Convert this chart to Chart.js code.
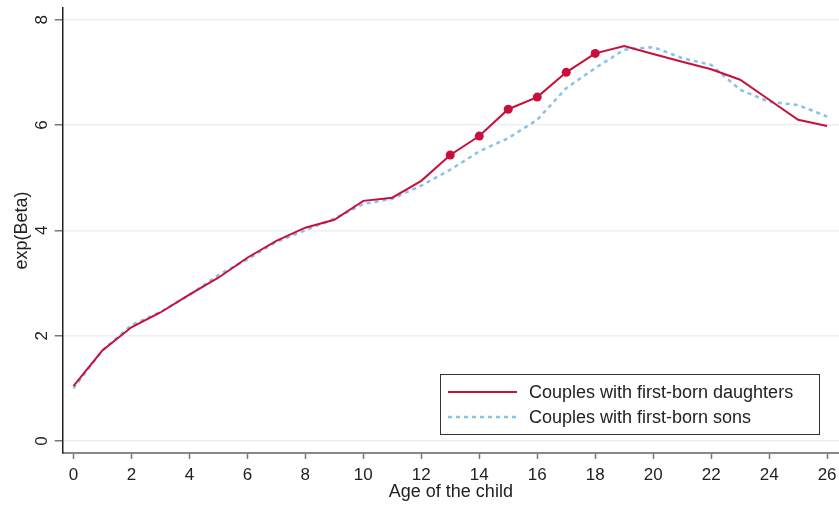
<!DOCTYPE html>
<html>
<head>
<meta charset="utf-8">
<script src="https://cdn.jsdelivr.net/npm/chart.js@4.4.1/dist/chart.umd.min.js"></script>
<style>
  html, body { margin: 0; padding: 0; background: #fff; }
  #wrap { width: 839px; height: 507px; }
</style>
</head>
<body>
<div id="wrap"><canvas id="chartAge" width="839" height="507"></canvas></div>
<script>
const ages = [0, 1, 2, 3, 4, 5, 6, 7, 8, 9, 10, 11, 12, 13, 14, 15, 16, 17, 18, 19, 20, 21, 22, 23, 24, 25, 26];
const daughters = [1.04, 1.72, 2.16, 2.44, 2.78, 3.1, 3.48, 3.8, 4.05, 4.2, 4.56, 4.62, 4.94, 5.43, 5.79, 6.3, 6.53, 7.0, 7.36, 7.5, 7.35, 7.2, 7.06, 6.86, 6.48, 6.1, 5.98];
const sons = [1.0, 1.72, 2.2, 2.45, 2.77, 3.15, 3.45, 3.78, 4.0, 4.22, 4.5, 4.6, 4.85, 5.15, 5.5, 5.75, 6.1, 6.7, 7.08, 7.43, 7.48, 7.27, 7.14, 6.67, 6.44, 6.38, 6.16];
// ages where the daughters estimate is marked with a dot
const markedAges = [13, 14, 15, 16, 17, 18];
const xTicks = [0, 2, 4, 6, 8, 10, 12, 14, 16, 18, 20, 22, 24, 26];
const yTicks = [0, 2, 4, 6, 8];

const RED = "#c8103a";
const BLUE = "#86c2ea";
const FAMILY = "'Liberation Sans', Arial, sans-serif";
const TICK_FONT = { family: FAMILY, size: 17 };
const TITLE_FONT = { family: FAMILY, size: 18 };

// legend box drawn inside the plot, bottom right
const boxLegend = {
  id: "boxLegend",
  afterDraw(chart) {
    const ctx = chart.ctx;
    const x0 = 440, y0 = 374, w = 379, h = 60;
    ctx.save();
    ctx.fillStyle = "#fff";
    ctx.fillRect(x0, y0, w, h);
    ctx.strokeStyle = "#333";
    ctx.lineWidth = 1;
    ctx.strokeRect(x0 + 0.5, y0 + 0.5, w, h);
    chart.data.datasets.forEach((ds, i) => {
      const y = 392 + i * 25;
      ctx.strokeStyle = ds.borderColor;
      ctx.lineWidth = ds.borderWidth;
      ctx.setLineDash(ds.borderDash || []);
      ctx.beginPath();
      ctx.moveTo(448, y);
      ctx.lineTo(517, y);
      ctx.stroke();
      ctx.setLineDash([]);
      ctx.fillStyle = "#222";
      ctx.font = TITLE_FONT.size + "px " + FAMILY;
      ctx.textBaseline = "middle";
      ctx.fillText(ds.label, 529, y + 1);
    });
    ctx.restore();
  },
};

const dataAge = {
  datasets: [
    {
      label: "Couples with first-born daughters",
      data: ages.map((a, i) => ({ x: a, y: daughters[i] })),
      borderColor: RED,
      backgroundColor: RED,
      borderWidth: 2,
      pointRadius: (c) => (markedAges.includes(ages[c.dataIndex]) ? 4.5 : 0),
      pointBorderWidth: 0,
      tension: 0,
      order: 1,
    },
    {
      label: "Couples with first-born sons",
      data: ages.map((a, i) => ({ x: a, y: sons[i] })),
      borderColor: BLUE,
      backgroundColor: BLUE,
      borderWidth: 2.5,
      borderDash: [4, 4],
      pointRadius: 0,
      tension: 0,
      order: 2,
    },
  ],
};

const configAge = {
  type: "line",
  data: dataAge,
  plugins: [boxLegend],
  options: {
    responsive: false,
    animation: false,
    devicePixelRatio: 1,
    layout: { padding: { top: 8, right: 0, left: 0, bottom: 0 } },
    plugins: { legend: { display: false }, tooltip: { enabled: false } },
    scales: {
      x: {
        type: "linear",
        min: -0.37,
        max: 26.41,
        afterBuildTicks: (s) => { s.ticks = xTicks.map((v) => ({ value: v })); },
        afterFit: (s) => { s.height = 54; s.paddingLeft = 0; s.paddingRight = 0; },
        border: { color: "#888", width: 2 },
        grid: { drawOnChartArea: false, tickLength: 6, tickColor: "#777", tickWidth: 1.5 },
        ticks: { font: TICK_FONT, color: "#222", padding: 6, maxRotation: 0 },
        title: { display: true, text: "Age of the child", font: TITLE_FONT, color: "#222", padding: { top: 0, bottom: 4 } },
      },
      y: {
        min: -0.228,
        max: 8.222,
        afterBuildTicks: (s) => { s.ticks = yTicks.map((v) => ({ value: v })); },
        afterFit: (s) => { s.width = 62.7; s.paddingTop = 0; s.paddingBottom = 0; },
        border: { color: "#222", width: 1.5 },
        grid: { color: "#eaf0f3", lineWidth: 1.5, tickLength: 8, tickColor: "#777", tickWidth: 1.5 },
        ticks: { font: TICK_FONT, color: "#222", padding: 8, minRotation: 90, maxRotation: 90, crossAlign: "center" },
        title: { display: true, text: "exp(Beta)", font: TITLE_FONT, color: "#222", padding: { top: 11, bottom: 0 } },
      },
    },
  },
};

let chartAge = new Chart(document.getElementById("chartAge"), configAge);
</script>
</body>
</html>
